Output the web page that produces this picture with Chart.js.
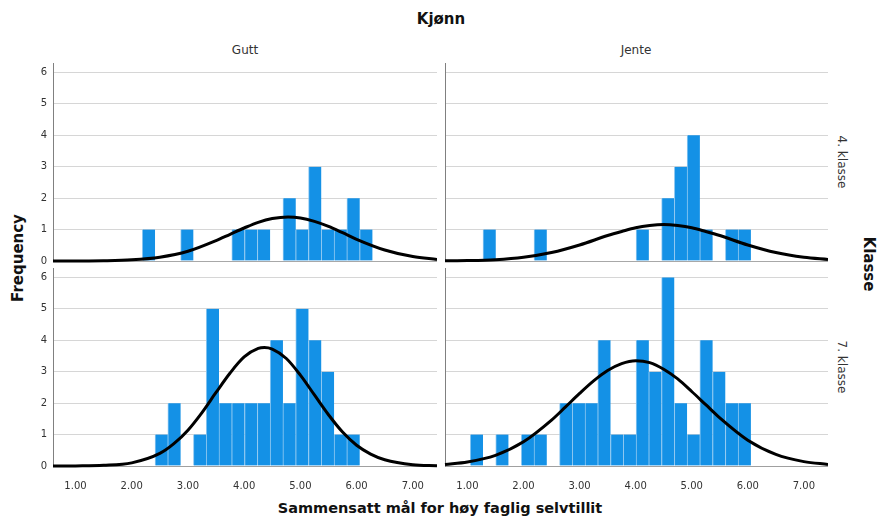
<!DOCTYPE html>
<html>
<head>
<meta charset="utf-8">
<script src="https://cdn.jsdelivr.net/npm/chart.js@4/dist/chart.umd.min.js"></script>
<style>
  body { margin: 0; background: #fff; width: 877px; height: 517px; position: relative; overflow: hidden;
         font-family: "DejaVu Sans", sans-serif; color: #222; }
  canvas { position: absolute; }
  .lbl { position: absolute; white-space: nowrap; transform: translate(-50%, -50%); }
  .title { font-weight: bold; font-size: 15px; color: #111; }
  .strip { font-size: 12px; color: #333; }
  .rotR { transform: translate(-50%, -50%) rotate(90deg); }
  .rotL { transform: translate(-50%, -50%) rotate(-90deg); }
</style>
</head>
<body>
<div class="lbl title" style="left:441px; top:19px;">Kjønn</div>
<div class="lbl strip" style="left:245px; top:50px;">Gutt</div>
<div class="lbl strip" style="left:636px; top:50px;">Jente</div>
<div class="lbl title rotL" style="left:18px; top:258px;">Frequency</div>
<div class="lbl title rotR" style="left:869px; top:264px;">Klasse</div>
<div class="lbl strip rotR" style="left:842px; top:162px;">4. klasse</div>
<div class="lbl strip rotR" style="left:842px; top:367px;">7. klasse</div>
<div class="lbl title" style="left:440px; top:508px; font-size:14.5px;">Sammensatt mål for høy faglig selvtillit</div>

<canvas id="gutt4" width="414" height="205" style="left:23px; top:63px;"></canvas>
<canvas id="jente4" width="385" height="205" style="left:443px; top:63px;"></canvas>
<canvas id="gutt7" width="414" height="222" style="left:23px; top:268px;"></canvas>
<canvas id="jente7" width="385" height="222" style="left:443px; top:268px;"></canvas>

<script>
const binMids = [1.1638, 1.3913, 1.6188, 1.8463, 2.0738, 2.3013, 2.5288, 2.7563, 2.9838, 3.2113, 3.4388, 3.6663,
  3.8938, 4.1213, 4.3488, 4.5763, 4.8038, 5.0313, 5.2588, 5.4863, 5.7138, 5.9413, 6.1688];

const gutt4Counts  = [0, 0, 0, 0, 0, 1, 0, 0, 1, 0, 0, 0, 1, 1, 1, 0, 2, 1, 3, 1, 1, 2, 1];
const jente4Counts = [0, 1, 0, 0, 0, 1, 0, 0, 0, 0, 0, 0, 0, 1, 0, 2, 3, 4, 1, 0, 1, 1, 0];
const gutt7Counts  = [0, 0, 0, 0, 0, 0, 1, 2, 0, 1, 5, 2, 2, 2, 2, 4, 2, 5, 4, 3, 1, 1, 0];
const jente7Counts = [1, 0, 1, 0, 1, 1, 0, 2, 2, 2, 4, 1, 1, 4, 3, 6, 2, 1, 4, 3, 2, 2, 0];

// normal curves
const gutt4CurveX = [0.6, 1, 1.5, 2, 2.5, 3, 3.5, 3.75, 4, 4.25, 4.5, 4.78, 5, 5.25, 5.5, 5.75, 6, 6.5, 7, 7.43];
const gutt4CurveY = [0, 0.002, 0.009, 0.037, 0.12, 0.31, 0.65, 0.85, 1.05, 1.23, 1.35, 1.40, 1.37, 1.26, 1.10, 0.90, 0.69, 0.35, 0.14, 0.05];
const jente4CurveX = [0.6, 1, 1.5, 2, 2.5, 3, 3.5, 3.75, 4, 4.25, 4.5, 4.75, 5, 5.25, 5.5, 6, 6.5, 7, 7.43];
const jente4CurveY = [0.005, 0.013, 0.043, 0.12, 0.27, 0.51, 0.81, 0.94, 1.06, 1.13, 1.16, 1.13, 1.06, 0.94, 0.81, 0.51, 0.27, 0.12, 0.05];
const gutt7CurveX = [0.6, 1, 1.5, 2, 2.5, 2.75, 3, 3.25, 3.5, 3.75, 4, 4.25, 4.36, 4.5, 4.75, 5, 5.25, 5.5, 5.75, 6, 6.25, 6.5, 7, 7.43];
const gutt7CurveY = [0, 0.003, 0.02, 0.10, 0.40, 0.71, 1.14, 1.70, 2.34, 2.96, 3.47, 3.74, 3.77, 3.72, 3.42, 2.89, 2.26, 1.63, 1.08, 0.66, 0.38, 0.20, 0.04, 0.01];
const jente7CurveX = [0.6, 1, 1.5, 2, 2.5, 2.75, 3, 3.25, 3.5, 3.75, 4, 4.25, 4.5, 4.75, 5, 5.25, 5.5, 6, 6.5, 7, 7.43];
const jente7CurveY = [0.05, 0.13, 0.34, 0.77, 1.46, 1.88, 2.31, 2.71, 3.04, 3.26, 3.35, 3.29, 3.08, 2.77, 2.37, 1.95, 1.53, 0.82, 0.37, 0.14, 0.05];

const xTickValues = [1, 2, 3, 4, 5, 6, 7];
const yTickValues = [0, 1, 2, 3, 4, 5, 6];

const tickFont = { family: "DejaVu Sans", size: 10 };

function renderPanel(id, counts, curveX, curveY, showY, showX) {
  new Chart(document.getElementById(id), {
    type: "bar",
    data: {
      datasets: [
        {
          type: "line",
          data: curveX.map((x, i) => ({ x, y: curveY[i] })),
          borderColor: "#000",
          borderWidth: 3,
          pointRadius: 0,
          cubicInterpolationMode: "monotone",
          clip: false,
          order: 0
        },
        {
          data: binMids.map((x, i) => ({ x, y: counts[i] })),
          backgroundColor: "#1491e6",
          borderColor: "#8fc8f1",
          borderWidth: { left: 1, right: 0, top: 0, bottom: 0 },
          barPercentage: 1,
          categoryPercentage: 1,
          order: 1
        }
      ]
    },
    options: {
      responsive: false,
      animation: false,
      layout: { padding: { top: 0, left: 0, right: 0, bottom: showX ? 0 : 7 } },
      plugins: { legend: { display: false }, tooltip: { enabled: false } },
      scales: {
        x: {
          type: "linear",
          min: 0.6,
          max: 7.43,
          offset: false,
          display: showX,
          grid: { display: false },
          border: { color: "#a0a0a0" },
          ticks: { padding: 6, color: "#333", font: tickFont, callback: v => v.toFixed(2) },
          afterBuildTicks: s => { s.ticks = xTickValues.map(v => ({ value: v })); },
          afterFit: s => { s.height = showX ? 24 : 0; s.paddingLeft = 0; s.paddingRight = 0; }
        },
        y: {
          min: 0,
          max: 6.3,
          grid: { color: ctx => (ctx.tick && ctx.tick.value === 0) ? "#a8a8a8" : "#d6d6d6", drawTicks: false },
          border: { color: "#808080" },
          ticks: { display: showY, padding: 6, color: "#333", font: tickFont },
          afterBuildTicks: s => { s.ticks = yTickValues.map(v => ({ value: v })); },
          afterFit: s => { s.width = showY ? 30 : 2; s.paddingTop = 0; s.paddingBottom = 0; }
        }
      }
    }
  });
}

renderPanel("gutt4", gutt4Counts, gutt4CurveX, gutt4CurveY, true, false);
renderPanel("jente4", jente4Counts, jente4CurveX, jente4CurveY, false, false);
renderPanel("gutt7", gutt7Counts, gutt7CurveX, gutt7CurveY, true, true);
renderPanel("jente7", jente7Counts, jente7CurveX, jente7CurveY, false, true);
</script>
</body>
</html>
